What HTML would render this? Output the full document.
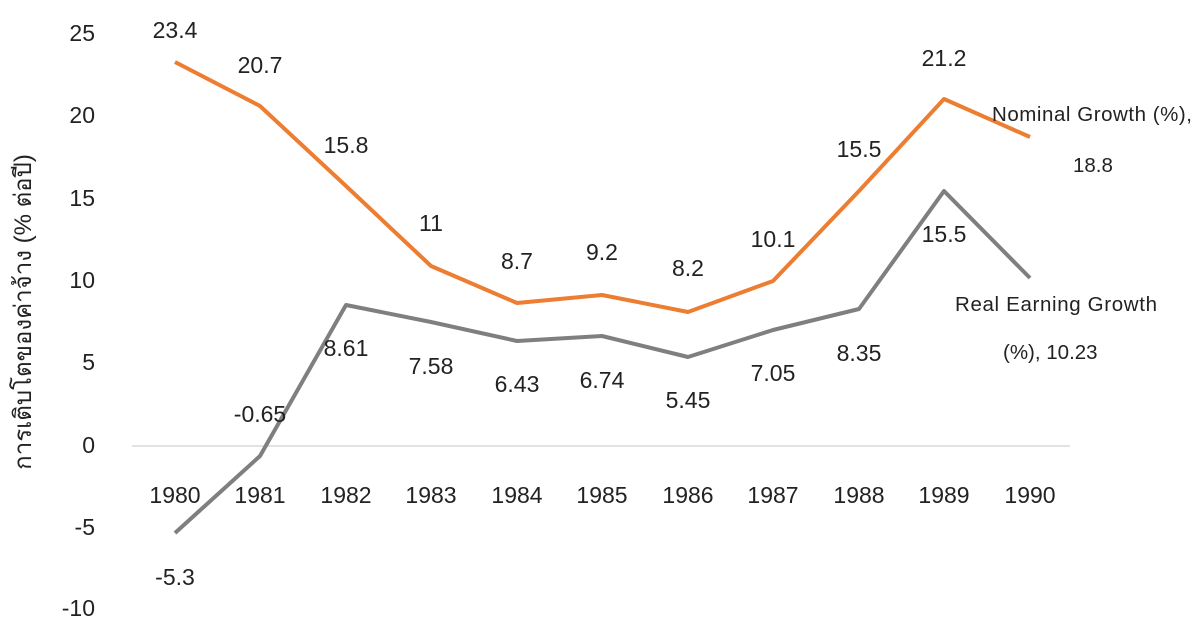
<!DOCTYPE html>
<html><head><meta charset="utf-8"><style>
body{margin:0;background:#fff}
svg text{font-family:"Liberation Sans","Noto Sans CJK SC",sans-serif;fill:#222}
</style></head><body>
<svg width="1195" height="626" viewBox="0 0 1195 626">
<g font-size="23" text-anchor="end">
<text x="95" y="41">25</text><text x="95" y="123">20</text><text x="95" y="206">15</text>
<text x="95" y="288">10</text><text x="95" y="370">5</text><text x="95" y="453">0</text>
<text x="95" y="535">-5</text><text x="95" y="616">-10</text>
</g>
<text transform="translate(31,312) rotate(-90)" font-size="24" text-anchor="middle">การเติบโตของค่าจ้าง (% ต่อปี)</text>
<line x1="132" y1="446" x2="1070" y2="446" stroke="#d9d9d9" stroke-width="1.5"/>
<g font-size="23" text-anchor="middle">
<text x="175" y="503">1980</text><text x="260" y="503">1981</text><text x="346" y="503">1982</text>
<text x="431" y="503">1983</text><text x="517" y="503">1984</text><text x="602" y="503">1985</text>
<text x="688" y="503">1986</text><text x="773" y="503">1987</text><text x="859" y="503">1988</text>
<text x="944" y="503">1989</text><text x="1030" y="503">1990</text>
</g>
<polyline fill="none" stroke="#ed7d31" stroke-width="4" stroke-linejoin="round" points="175,62 260,106 346,186 431,266 517,303 602,295 688,312 773,281 859,191 944,99 1030,137"/>
<polyline fill="none" stroke="#7f7f7f" stroke-width="4" stroke-linejoin="round" points="175,533 260,456 346,305 431,322 517,341 602,336 688,357 773,330 859,309 944,191 1030,278"/>
<g font-size="23" text-anchor="middle">
<text x="175" y="38">23.4</text><text x="260" y="73">20.7</text><text x="346" y="153">15.8</text>
<text x="431" y="231">11</text><text x="517" y="269">8.7</text><text x="602" y="260">9.2</text>
<text x="688" y="276">8.2</text><text x="773" y="247">10.1</text><text x="859" y="157">15.5</text>
<text x="944" y="66">21.2</text>
<text x="175" y="585">-5.3</text><text x="260" y="422">-0.65</text><text x="346" y="356">8.61</text>
<text x="431" y="374">7.58</text><text x="517" y="392">6.43</text><text x="602" y="388">6.74</text>
<text x="688" y="408">5.45</text><text x="773" y="381">7.05</text><text x="859" y="361">8.35</text>
<text x="944" y="242">15.5</text>
</g>
<g font-size="20.5">
<text x="992" y="121" textLength="200">Nominal Growth (%),</text>
<text x="1073" y="172">18.8</text>
<text x="955" y="311" textLength="202">Real Earning Growth</text>
<text x="1003" y="359">(%), 10.23</text>
</g>
</svg>
</body></html>
